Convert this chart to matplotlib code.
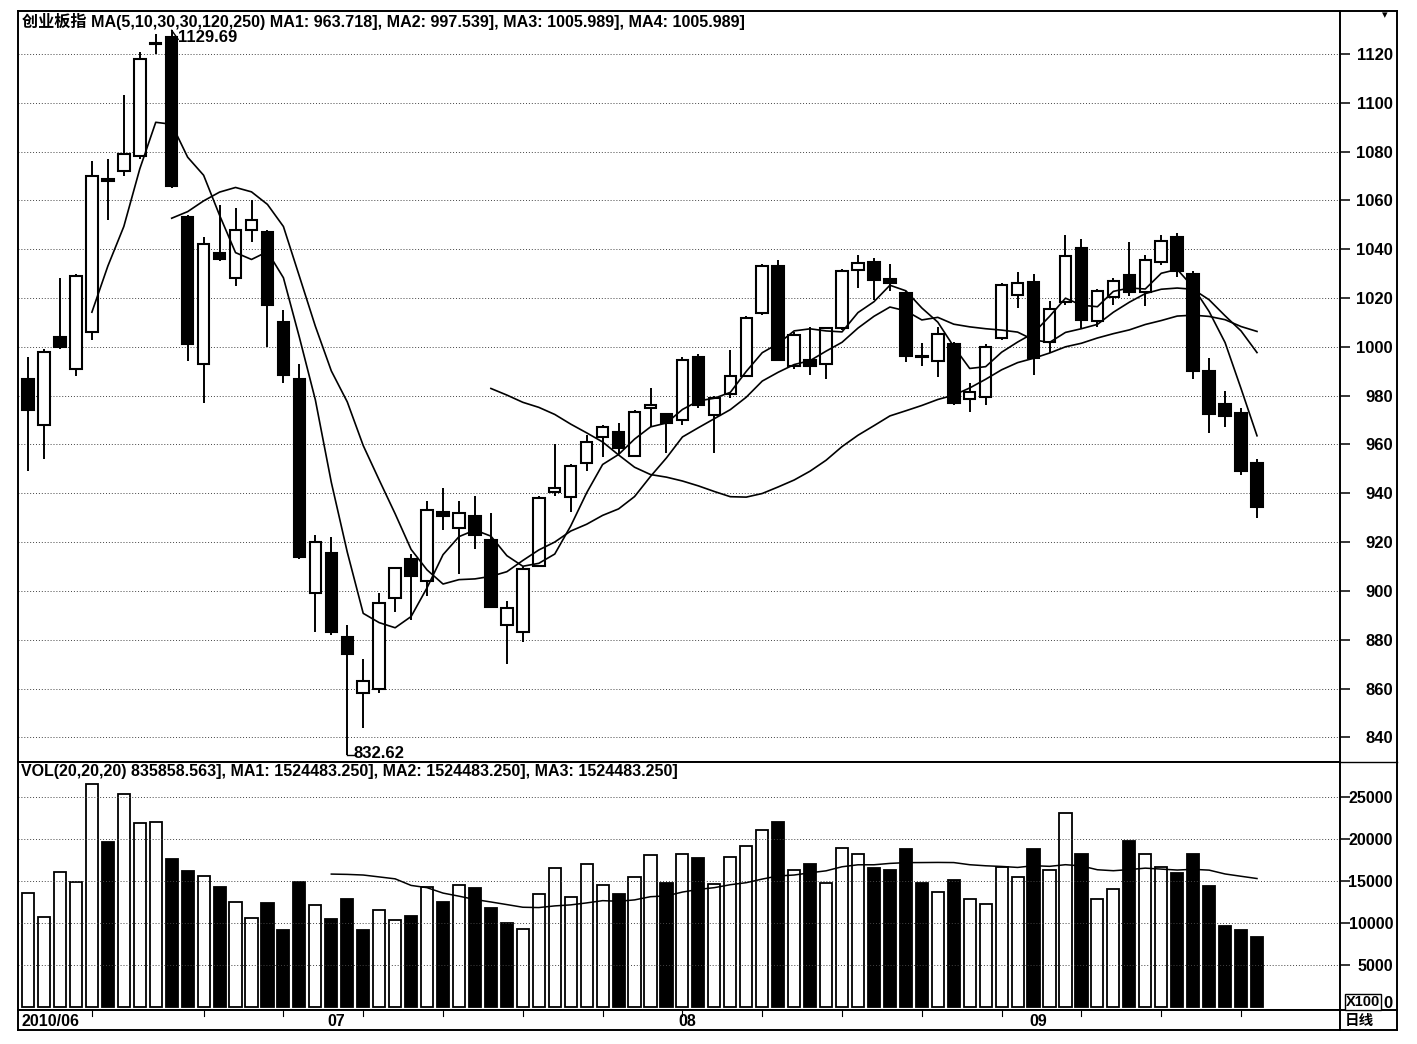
import matplotlib
matplotlib.use("Agg")
import matplotlib.pyplot as plt
from matplotlib.patches import Rectangle
from matplotlib import font_manager
import numpy as np
import pandas as pd

# ---- data (ChiNext index, daily, 2010-06-01 .. 2010-09-21)
opens = [987, 968, 1004, 991, 1006, 1068, 1072, 1078, 1124, 1127,
         1053, 993, 1038.5, 1028, 1048, 1047, 1010, 987, 899, 915.6,
         881, 858, 860, 897, 913, 904, 932.5, 925.7, 930.7, 921,
         886, 883, 910.4, 940.7, 938.6, 952.6, 963, 965, 955.4, 975,
         972.5, 970, 996, 972, 980.7, 988, 1014, 1033, 992, 994.7,
         993, 1007.7, 1031.6, 1034.6, 1027.7, 1022, 996, 994, 1001, 978.7,
         979.4, 1003.6, 1021.3, 1026.4, 1001.8, 1018.2, 1040.4, 1010.4, 1020.6, 1029.5,
         1022.3, 1034.7, 1045, 1030, 990.2, 976.6, 973, 952.6]
highs = [996, 999, 1028, 1030, 1076, 1077, 1103, 1121, 1128, 1129.69,
         1054, 1045, 1058, 1057, 1060, 1048, 1015, 993, 923, 922,
         886, 872, 899, 910, 915, 937, 942, 937, 939, 932,
         896, 910, 939, 960, 952, 964, 968, 969, 974, 983,
         973, 996, 997, 980, 998.5, 1012.5, 1034, 1035.4, 1006, 1008,
         1008, 1032, 1037.7, 1036.3, 1034, 1023, 1001.5, 1008.3, 1002, 985,
         1001, 1026, 1030.5, 1030, 1018.6, 1046, 1044, 1023.5, 1028, 1043,
         1037.7, 1046, 1046.6, 1031, 995.4, 982, 975, 954]
lows = [949, 954, 999, 988, 1003, 1052, 1070, 1077, 1120, 1065,
        994, 977, 1035, 1025, 1043, 1000, 985, 913, 883, 882,
        832.62, 844, 858, 891.5, 888, 898, 925, 907, 917, 893,
        870, 879, 910, 939, 932.5, 949, 955, 956, 955, 967,
        956.6, 968, 975, 956.6, 979, 987.5, 1013, 994, 991, 988.5,
        987, 1007, 1024, 1019, 1022.7, 993.6, 992, 987.8, 976, 973.5,
        976, 1003, 1015.8, 988.5, 997.4, 1017, 1007.7, 1008, 1017, 1021,
        1016.8, 1033.6, 1028.8, 987, 964.6, 967.3, 947.5, 930]
closes = [974, 998, 1000, 1029, 1070, 1068.5, 1079, 1118, 1124.5, 1066,
          1001, 1042, 1036, 1048, 1052, 1017, 988.5, 914, 920, 883,
          874, 863, 895, 909.5, 906, 933, 930.7, 932, 923, 893.5,
          893, 909, 938, 942, 951, 961, 967, 958.5, 973.5, 976,
          969, 994.7, 976, 979, 988, 1012, 1033, 994.7, 1005, 992.2,
          1007.7, 1031, 1034.3, 1027.2, 1026, 996.3, 995.8, 1005.3, 977, 981.3,
          1000, 1025.4, 1026.1, 995.4, 1015.4, 1037.4, 1011, 1023, 1026.8, 1022.3,
          1035.4, 1043.2, 1031, 990.2, 972.5, 971.8, 949, 934.3]
volumes = [13500, 10640, 16000, 14890, 26480, 19650, 25330, 21830, 22030, 17550,
           16200, 15560, 14210, 12500, 10600, 12300, 9130, 14890, 12110, 10400,
           12780, 9130, 11510, 10320, 10840, 14290, 12500, 14490, 14090, 11710,
           10000, 9250, 13420, 16480, 13020, 16990, 14490, 13380, 15400, 18000,
           14720, 18200, 17720, 14600, 17800, 19120, 21080, 21920, 16280, 17000,
           14680, 18880, 18120, 16520, 16280, 18800, 14680, 13680, 15080, 12880,
           12200, 16600, 15400, 18720, 16280, 23000, 18200, 12800, 14000, 19680,
           18120, 16600, 15880, 18200, 14400, 9680, 9200, 8320]
price_ticks = [840, 860, 880, 900, 920, 940, 960, 980, 1000, 1020, 1040, 1060, 1080, 1100, 1120]
vol_ticks = [5000, 10000, 15000, 20000, 25000]
month_labels = ["2010/06", "07", "08", "09"]

title_price = "创业板指 MA(5,10,30,30,120,250) MA1: 963.718], MA2: 997.539], MA3: 1005.989], MA4: 1005.989]"
title_vol = "VOL(20,20,20) 835858.563], MA1: 1524483.250], MA2: 1524483.250], MA3: 1524483.250]"

# trading calendar (Dragon Boat holiday 14-16 June)
days = pd.bdate_range("2010-06-01", "2010-09-21")
days = days[~days.isin(pd.to_datetime(["2010-06-14", "2010-06-15", "2010-06-16"]))]

avail = {f.name for f in font_manager.fontManager.ttflist}
base = "Liberation Sans Narrow" if "Liberation Sans Narrow" in avail else "Liberation Sans"
plt.rcParams['font.family'] = [base, 'Noto Sans CJK SC', 'DejaVu Sans']
plt.rcParams['font.weight'] = 'bold'

W, H = 1417, 1044
AXR = 1340      # right edge of plotting area, px
BR = 1397       # outer right border, px
LAB = 1393      # right edge of the axis labels, px


def rect(x0, y0, x1, y1):
    return [x0 / W, 1 - y1 / H, (x1 - x0) / W, (y1 - y0) / H]


def fx(px):
    return px / W


def fy(py):
    return 1 - py / H


fig = plt.figure(figsize=(W / 100, H / 100), dpi=100)
ax = fig.add_axes(rect(18, 11, AXR, 762))
axv = fig.add_axes(rect(18, 762, AXR, 1010), sharex=ax)
axd = fig.add_axes(rect(18, 1010, AXR, 1030), sharex=ax)

x = np.arange(len(closes))
o = np.array(opens)
c = np.array(closes)
h = np.array(highs)
l = np.array(lows)
v = np.array(volumes)
wd = 0.72

for i in x:
    up = c[i] >= o[i]
    ax.vlines(i, l[i], h[i], color='black', lw=1.4, zorder=2)
    bot = min(o[i], c[i])
    ht = max(abs(c[i] - o[i]), 0.6)
    ax.add_patch(Rectangle((i - wd / 2, bot), wd, ht, facecolor='white' if up else 'black',
                           edgecolor='black', lw=1.5, zorder=3))

cs = pd.Series(c)
for n in (5, 10, 30):
    ax.plot(x, cs.rolling(n).mean(), color='black', lw=1.2, zorder=4)

# high / low markers
ax.plot([9.0, 9.4], [1129.69, 1126.0], color='black', lw=1.0)
ax.text(9.4, 1126.6, "1129.69", fontsize=12, va='center', ha='left')
ax.plot([20.0, 20.4], [832.62, 832.62], color='black', lw=1.0)
ax.text(20.4, 833.4, "832.62", fontsize=12, va='center', ha='left')

tick_len = 7          # pt
pad_pt = (LAB - AXR) * 0.72 - tick_len

ax.set_xlim(-0.63, 82.2)
ax.set_ylim(829.9, 1137.6)
ax.yaxis.tick_right()
ax.set_yticks(price_ticks)
ax.set_yticklabels([str(t) for t in price_ticks], ha='right')
ax.tick_params(axis='y', direction='out', length=tick_len, width=1.1, labelsize=12, pad=pad_pt)
ax.tick_params(axis='x', length=0, labelbottom=False)
ax.grid(axis='y', linestyle=(0, (1, 2)), color='#444444', lw=0.7)
ax.text(0.003, 0.997, title_price, transform=ax.transAxes, fontsize=11.6,
        va='top', ha='left')

# volume
prev = np.r_[c[0] - 1, c[:-1]]
for i in x:
    up = c[i] >= prev[i]
    axv.add_patch(Rectangle((i - 0.38, 0), 0.76, v[i], facecolor='white' if up else 'black',
                            edgecolor='black', lw=1.3))
axv.plot(x, pd.Series(v).rolling(20).mean(), color='black', lw=1.1)
axv.set_ylim(-350, 29100)
axv.yaxis.tick_right()
axv.set_yticks(vol_ticks)
axv.set_yticklabels([str(t) for t in vol_ticks], ha='right')
axv.tick_params(axis='y', direction='out', length=tick_len, width=1.1, labelsize=11.5, pad=pad_pt)
axv.tick_params(axis='x', length=0, labelbottom=False)
axv.grid(axis='y', linestyle=(0, (1, 2)), color='#444444', lw=0.7)
axv.text(0.002, 0.99, title_vol, transform=axv.transAxes, fontsize=11.5,
         va='top', ha='left')

# date strip
axd.set_yticks([])
axd.tick_params(axis='x', length=0, labelbottom=False)
months = pd.Series(days.month)
starts = list(months.index[months != months.shift()])
for k, s in enumerate(starts):
    axd.text(s - 0.25 if k else -0.4, 0.45, month_labels[k], fontsize=11.5,
             va='center', ha='left', transform=axd.get_xaxis_transform())
for i, d in enumerate(days):
    if d.weekday() == 0:
        axd.axvline(i, ymin=0.7, ymax=1, color='black', lw=0.8)

for a in (ax, axv, axd):
    for sp in a.spines.values():
        sp.set_linewidth(1.4)

# right-hand boxes and outer frame
def hline(px0, px1, py, lw=1.4):
    fig.add_artist(plt.Line2D([fx(px0), fx(px1)], [fy(py), fy(py)], color='black', lw=lw))


fig.add_artist(plt.Line2D([fx(BR), fx(BR)], [fy(1030), fy(11)], color='black', lw=1.4))
hline(AXR, BR, 11)
hline(AXR, BR, 1030)
hline(AXR, BR, 1010)
hline(AXR, BR, 762, 1.0)
fig.text(fx(BR - 12), fy(15), "▾", fontsize=8, va='center', ha='center', family='DejaVu Sans')
fig.text(fx(1346), fy(1002), "X100", fontsize=10.5, va='center', ha='left',
         bbox=dict(facecolor='white', edgecolor='black', pad=0.8, lw=1))
fig.text(fx(LAB), fy(1003), "0", fontsize=12, va='center', ha='right')
fig.text(fx(1345), fy(1021), "日线", fontsize=10.5, va='center', ha='left')

fig.savefig("out.png", dpi=100, facecolor='white')
